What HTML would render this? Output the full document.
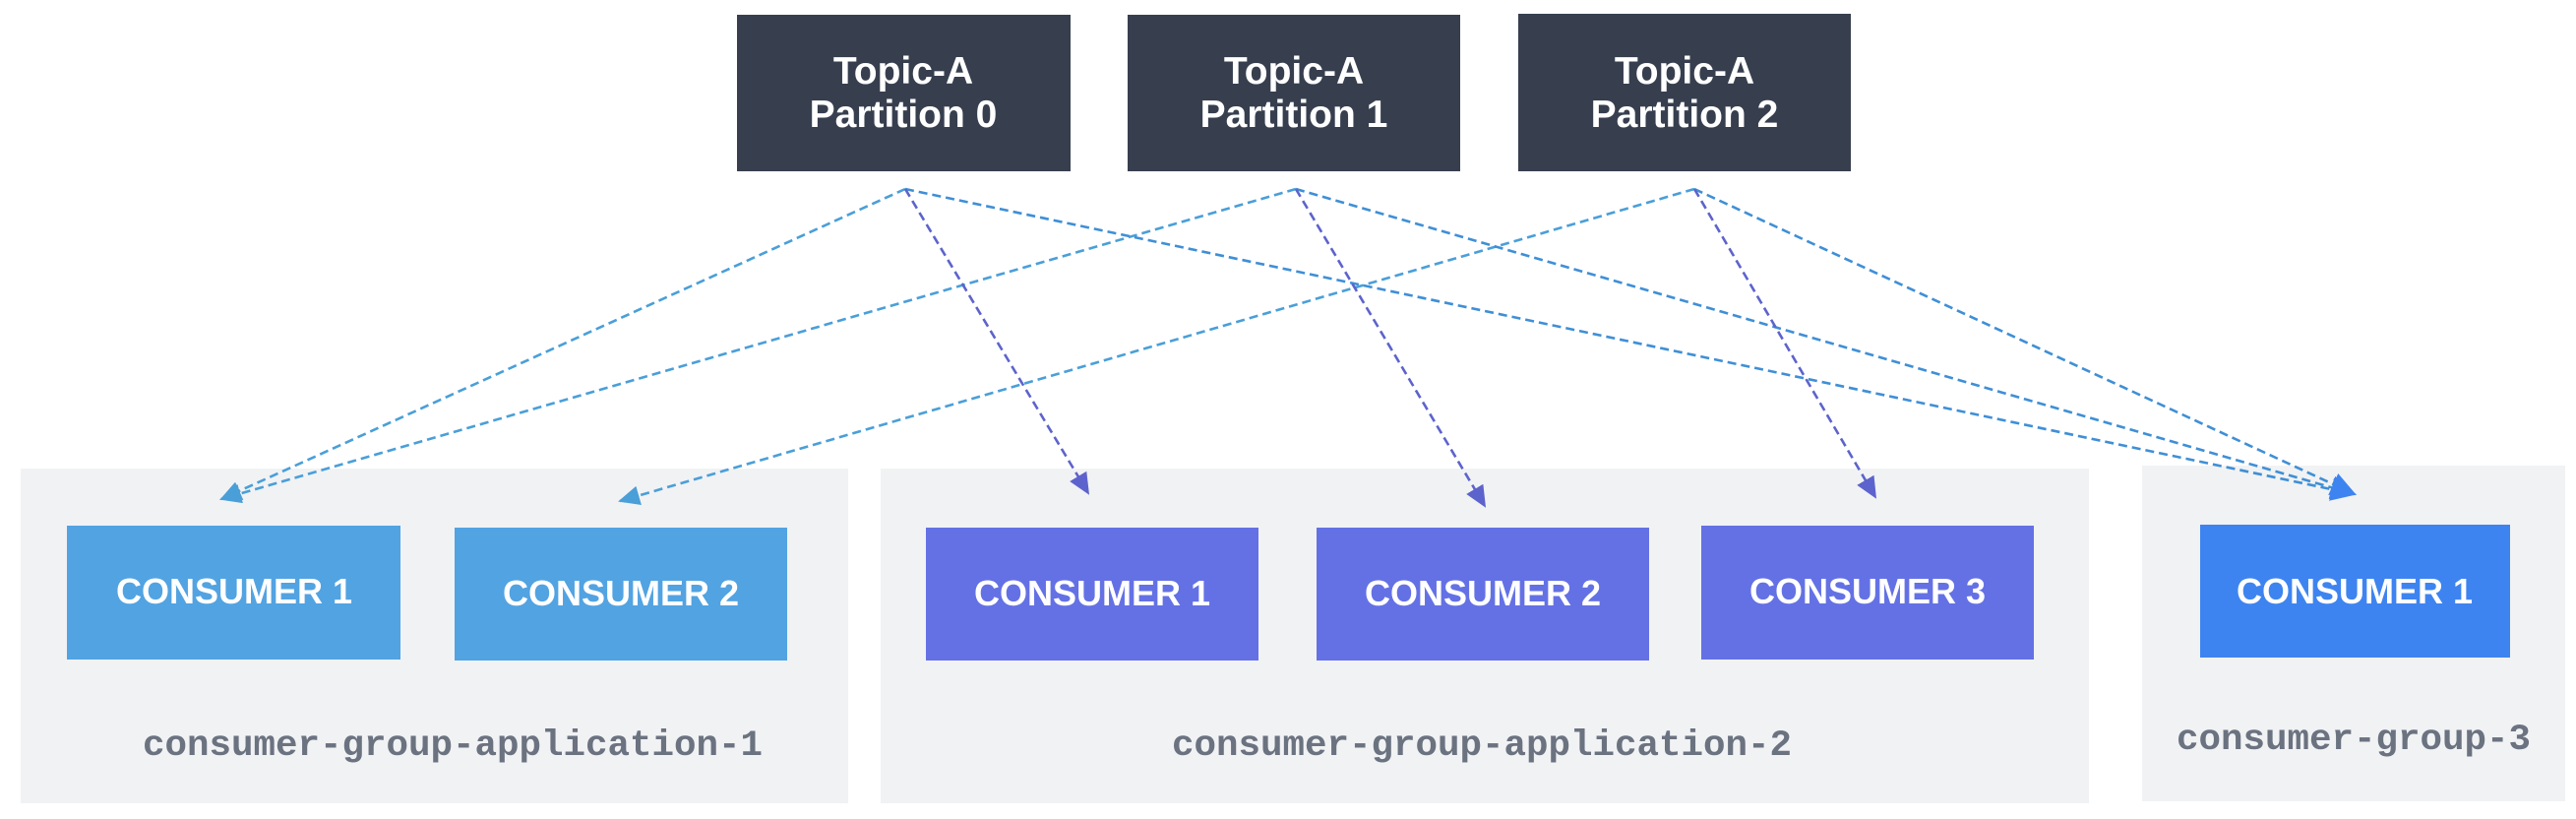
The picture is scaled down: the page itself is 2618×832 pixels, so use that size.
<!DOCTYPE html>
<html><head><meta charset="utf-8"><style>
html,body{margin:0;padding:0;background:#fff;width:2618px;height:832px;overflow:hidden}
svg{display:block}
.t{font-family:"Liberation Sans",sans-serif;font-weight:bold;fill:#fff;text-anchor:middle}
.m{font-family:"Liberation Mono",monospace;font-weight:bold;fill:#6b7280;font-size:37.5px;text-anchor:middle}
</style></head><body>
<svg width="2618" height="832" viewBox="0 0 2618 832">
<defs>
<marker id="ab2" markerWidth="22" markerHeight="20" refX="20" refY="10" orient="auto" markerUnits="userSpaceOnUse" viewBox="0 0 22 20"><path d="M0,0 L22,10 L0,20 z" fill="#4a9fd8"/></marker>
<marker id="ap" markerWidth="22" markerHeight="20" refX="20" refY="10" orient="auto" markerUnits="userSpaceOnUse" viewBox="0 0 22 20"><path d="M0,0 L22,10 L0,20 z" fill="#5d63cc"/></marker>
<marker id="ag" markerWidth="26" markerHeight="24" refX="24" refY="12" orient="auto" markerUnits="userSpaceOnUse" viewBox="0 0 26 24"><path d="M0,0 L26,12 L0,24 z" fill="#3e84f0"/></marker>
</defs>
<rect x="21" y="476" width="841" height="340" fill="#f1f2f4"/>
<rect x="895" y="476" width="1228" height="340" fill="#f1f2f4"/>
<rect x="2177" y="473" width="430" height="341" fill="#f1f2f4"/>
<rect x="749" y="15" width="339" height="159" fill="#373f4f"/>
<rect x="1146" y="15" width="338" height="159" fill="#373f4f"/>
<rect x="1543" y="14" width="338" height="160" fill="#373f4f"/>
<text class="t" font-size="39" x="918" y="85">Topic-A</text>
<text class="t" font-size="39" x="918" y="129">Partition 0</text>
<text class="t" font-size="39" x="1315" y="85">Topic-A</text>
<text class="t" font-size="39" x="1315" y="129">Partition 1</text>
<text class="t" font-size="39" x="1712" y="85">Topic-A</text>
<text class="t" font-size="39" x="1712" y="129">Partition 2</text>
<rect x="68" y="534" width="339" height="136" fill="#52a3e2"/>
<rect x="462" y="536" width="338" height="135" fill="#52a3e2"/>
<rect x="941" y="536" width="338" height="135" fill="#6471e5"/>
<rect x="1338" y="536" width="338" height="135" fill="#6471e5"/>
<rect x="1729" y="534" width="338" height="136" fill="#6471e5"/>
<rect x="2236" y="533" width="315" height="135" fill="#3e84f0"/>
<g class="t" font-size="36">
<text x="238" y="613">CONSUMER 1</text>
<text x="631" y="615">CONSUMER 2</text>
<text x="1110" y="615">CONSUMER 1</text>
<text x="1507" y="615">CONSUMER 2</text>
<text x="1898" y="613">CONSUMER 3</text>
<text x="2393" y="613">CONSUMER 1</text>
</g>
<text class="m" x="460" y="767">consumer-group-application-1</text>
<text class="m" x="1506" y="767">consumer-group-application-2</text>
<text class="m" x="2392" y="761">consumer-group-3</text>
<g fill="none" stroke-width="2.6" stroke-dasharray="9,5">
<path d="M920,192 L225,507" stroke="#4a9fd8" marker-end="url(#ab2)"/>
<path d="M1317,192 L225,507" stroke="#4a9fd8" marker-end="url(#ab2)"/>
<path d="M1722,192 L630,509" stroke="#4a9fd8" marker-end="url(#ab2)"/>
<path d="M920,192 L2393,502" stroke="#3f8fd6" marker-end="url(#ag)"/>
<path d="M1317,192 L2393,502" stroke="#3f8fd6" marker-end="url(#ag)"/>
<path d="M1722,192 L2393,502" stroke="#3f8fd6" marker-end="url(#ag)"/>
<path d="M920,192 L1106,501" stroke="#5d63cc" marker-end="url(#ap)"/>
<path d="M1317,192 L1509,514" stroke="#5d63cc" marker-end="url(#ap)"/>
<path d="M1722,192 L1906,505" stroke="#5d63cc" marker-end="url(#ap)"/>
</g>
</svg>
</body></html>
